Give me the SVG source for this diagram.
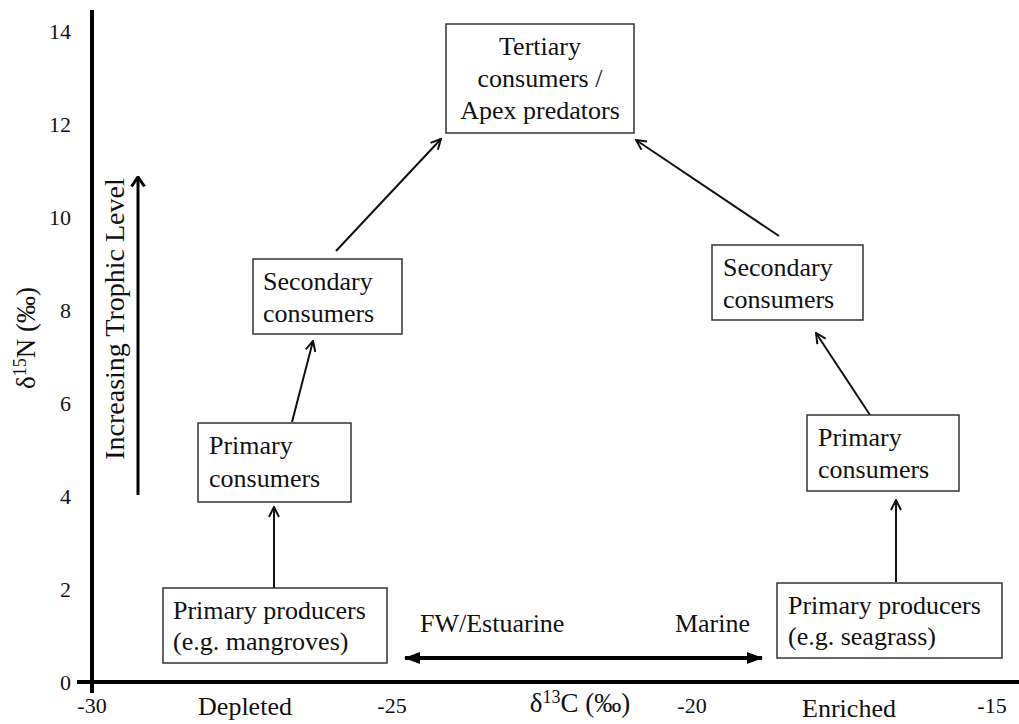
<svg xmlns="http://www.w3.org/2000/svg" width="1019" height="724" viewBox="0 0 1019 724" font-family="'Liberation Serif','Times New Roman',serif">
<style>
text{font-family:"Liberation Serif","Times New Roman",serif;fill:#111}
.box{fill:#fff;stroke:#333;stroke-width:1.5}
.bt{font-size:26px}
.tick{font-size:22px}
.ax{font-size:26px}
.conn{stroke:#111;stroke-width:2;fill:none}
</style>
<defs>
<marker id="open" viewBox="0 0 12 12" refX="11" refY="6" markerWidth="12" markerHeight="12" markerUnits="userSpaceOnUse" orient="auto">
<path d="M1,1 L11,6 L1,11" fill="none" stroke="#111" stroke-width="2"/>
</marker>
<marker id="openBig" viewBox="0 0 12 16" refX="10.5" refY="8" markerWidth="12" markerHeight="16" markerUnits="userSpaceOnUse" orient="auto">
<path d="M1,1.5 L10.5,8 L1,14.5" fill="none" stroke="#000" stroke-width="3"/>
</marker>
<marker id="fill" viewBox="0 0 16 12" refX="15" refY="6" markerWidth="16" markerHeight="12" markerUnits="userSpaceOnUse" orient="auto-start-reverse">
<path d="M0,0 L16,6 L0,12 Z" fill="#000"/>
</marker>
</defs>

<g id="axes">
<line x1="92" y1="10" x2="92" y2="693" stroke="#000" stroke-width="4"/>
<line x1="77" y1="682" x2="1019" y2="682" stroke="#000" stroke-width="4"/>
<g class="tick" text-anchor="end">
<text x="71" y="690">0</text>
<text x="71" y="597">2</text>
<text x="71" y="504">4</text>
<text x="71" y="411">6</text>
<text x="71" y="318">8</text>
<text x="71" y="225">10</text>
<text x="71" y="132">12</text>
<text x="71" y="39">14</text>
</g>
<g class="tick" text-anchor="middle">
<text x="92" y="713">-30</text>
<text x="392" y="713">-25</text>
<text x="692" y="713">-20</text>
<text x="992" y="713">-15</text>
</g>
<text class="ax" x="245" y="715" text-anchor="middle">Depleted</text>
<text class="ax" x="849" y="717" text-anchor="middle">Enriched</text>
<text x="580" y="712" text-anchor="middle" font-size="27">δ<tspan font-size="18" dy="-9">13</tspan><tspan dy="9">C (‰)</tspan></text>
<text transform="translate(35,338) rotate(-90)" text-anchor="middle" font-size="27">δ<tspan font-size="18" dy="-9">15</tspan><tspan dy="9">N (‰)</tspan></text>
</g>

<g id="trophic">
<line x1="138" y1="495" x2="138" y2="177" stroke="#000" stroke-width="3" marker-end="url(#openBig)"/>
<text transform="translate(124,319) rotate(-90)" text-anchor="middle" font-size="28">Increasing Trophic Level</text>
</g>

<g id="gradient">
<line x1="405" y1="658" x2="762" y2="658" stroke="#000" stroke-width="4" marker-start="url(#fill)" marker-end="url(#fill)"/>
<text class="ax" x="420" y="632">FW/Estuarine</text>
<text class="ax" x="750" y="632" text-anchor="end">Marine</text>
</g>

<g id="connectors">
<line class="conn" x1="274" y1="588" x2="274" y2="507" marker-end="url(#open)"/>
<line class="conn" x1="292" y1="422" x2="313" y2="341" marker-end="url(#open)"/>
<line class="conn" x1="336" y1="251" x2="441" y2="139" marker-end="url(#open)"/>
<line class="conn" x1="779" y1="236" x2="636" y2="140" marker-end="url(#open)"/>
<line class="conn" x1="870" y1="415" x2="816" y2="333" marker-end="url(#open)"/>
<line class="conn" x1="896" y1="582" x2="896" y2="500" marker-end="url(#open)"/>
</g>

<g id="tertiary">
<rect class="box" x="446" y="24" width="188" height="109"/>
<text class="bt" x="540" text-anchor="middle"><tspan x="540" y="55">Tertiary</tspan><tspan x="540" y="87">consumers /</tspan><tspan x="540" y="119">Apex predators</tspan></text>
</g>

<g id="left-secondary">
<rect class="box" x="253" y="259" width="149" height="75"/>
<text class="bt"><tspan x="263" y="290">Secondary</tspan><tspan x="263" y="322">consumers</tspan></text>
</g>

<g id="left-primary">
<rect class="box" x="198" y="423" width="153" height="79"/>
<text class="bt"><tspan x="209" y="454">Primary</tspan><tspan x="209" y="487">consumers</tspan></text>
</g>

<g id="left-producers">
<rect class="box" x="163" y="588" width="224" height="75"/>
<text class="bt"><tspan x="173" y="619">Primary producers</tspan><tspan x="173" y="650">(e.g. mangroves)</tspan></text>
</g>

<g id="right-secondary">
<rect class="box" x="712" y="245" width="151" height="75"/>
<text class="bt"><tspan x="723" y="276">Secondary</tspan><tspan x="723" y="308">consumers</tspan></text>
</g>

<g id="right-primary">
<rect class="box" x="807" y="415" width="152" height="76"/>
<text class="bt"><tspan x="818" y="446">Primary</tspan><tspan x="818" y="478">consumers</tspan></text>
</g>

<g id="right-producers">
<rect class="box" x="777" y="583" width="225" height="75"/>
<text class="bt"><tspan x="788" y="614">Primary producers</tspan><tspan x="788" y="645">(e.g. seagrass)</tspan></text>
</g>
</svg>
